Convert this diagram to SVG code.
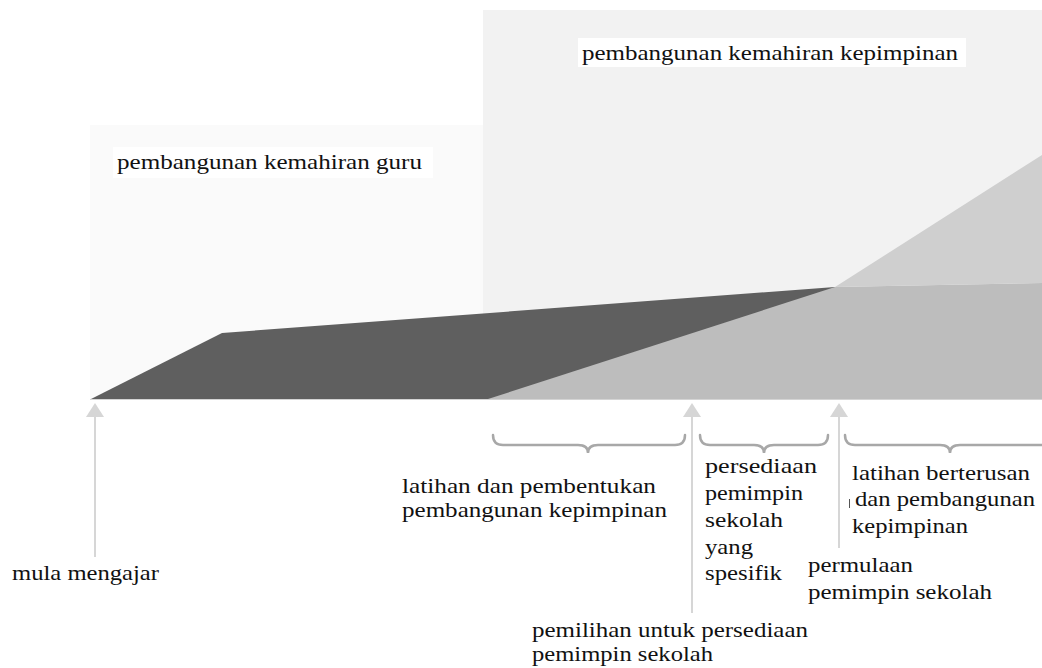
<svg xmlns="http://www.w3.org/2000/svg" width="1042" height="668" viewBox="0 0 1042 668">
<defs>
<style>
.t{font-family:'Liberation Serif','Times New Roman',serif;font-size:21px;fill:#111111;}
.arrow{stroke:#d6d6d6;stroke-width:2;fill:none;}
.head{fill:#d6d6d6;}
.brace{stroke:#a8a8a8;stroke-width:2.5;fill:none;stroke-linecap:round;}
.box{fill:#ffffff;}
</style>
</defs>
<rect width="1042" height="668" fill="#ffffff"/>
<g id="band-guru">
<rect x="90" y="125" width="952" height="274" fill="#fafafa"/>
</g>
<g id="band-kepimpinan">
<rect x="483" y="10" width="559" height="389" fill="#f2f2f2"/>
</g>
<g id="area-guru">
<polygon points="91,399 222,333 835,287 835,399" fill="#5f5f5f"/>
</g>
<g id="area-kepimpinan">
<polygon points="488,399 835,287 1042,283 1042,399" fill="#bdbdbd"/>
<polygon points="835,287 915,236 1042,155 1042,283" fill="#cfcfcf"/>
</g>
<line x1="90" y1="399.5" x2="1042" y2="399.5" stroke="#d4d4d4" stroke-width="1"/>
<g id="label-kepimpinan">
<rect class="box" x="578" y="38" width="388" height="29"/>
<text class="t" x="582" y="60" textLength="376" lengthAdjust="spacingAndGlyphs">pembangunan kemahiran kepimpinan</text>
</g>
<g id="label-guru">
<rect class="box" x="113" y="147" width="320" height="31"/>
<text class="t" x="117" y="169" textLength="305" lengthAdjust="spacingAndGlyphs">pembangunan kemahiran guru</text>
</g>
<g id="connectors">
<line class="arrow" x1="95" y1="415" x2="95" y2="557"/>
<polygon class="head" points="95,403 86,417 104,417"/>
<line class="arrow" x1="692" y1="415" x2="692" y2="613"/>
<polygon class="head" points="692,403 683,417 701,417"/>
<line class="arrow" x1="839" y1="415" x2="839" y2="548"/>
<polygon class="head" points="839,403 830,417 848,417"/>
<path class="brace" d="M493,435 Q493,445 503,445 L578,445 Q588,445 588,453 Q588,445 598,445 L675,445 Q685,445 685,435"/>
<path class="brace" d="M700,435 Q700,445 710,445 L754,445 Q764,445 764,453 Q764,445 774,445 L818,445 Q828,445 828,435"/>
<path class="brace" d="M845,435 Q845,445 855,445 L940,445 Q950,445 950,453 Q950,445 960,445 L1045,445 Q1055,445 1055,435"/>
</g>
<g id="label-mula">
<text class="t" x="12" y="580" textLength="147" lengthAdjust="spacingAndGlyphs">mula mengajar</text>
</g>
<g id="label-latihan">
<text class="t" x="402" y="493" textLength="254" lengthAdjust="spacingAndGlyphs">latihan dan pembentukan</text>
<text class="t" x="402" y="517" textLength="265" lengthAdjust="spacingAndGlyphs">pembangunan kepimpinan</text>
</g>
<g id="label-persediaan">
<text class="t" x="705" y="473" textLength="112" lengthAdjust="spacingAndGlyphs">persediaan</text>
<text class="t" x="705" y="500" textLength="98" lengthAdjust="spacingAndGlyphs">pemimpin</text>
<text class="t" x="705" y="527" textLength="78" lengthAdjust="spacingAndGlyphs">sekolah</text>
<text class="t" x="705" y="554" textLength="48" lengthAdjust="spacingAndGlyphs">yang</text>
<text class="t" x="705" y="580" textLength="77" lengthAdjust="spacingAndGlyphs">spesifik</text>
</g>
<g id="label-pemilihan">
<text class="t" x="532" y="637" textLength="276" lengthAdjust="spacingAndGlyphs">pemilihan untuk persediaan</text>
<text class="t" x="532" y="661" textLength="181" lengthAdjust="spacingAndGlyphs">pemimpin sekolah</text>
</g>
<g id="label-berterusan">
<text class="t" x="852" y="480" textLength="178" lengthAdjust="spacingAndGlyphs">latihan berterusan</text>
<line x1="849.5" y1="499" x2="849.5" y2="508" stroke="#555555" stroke-width="1"/>
<text class="t" x="855" y="506" textLength="180" lengthAdjust="spacingAndGlyphs">dan pembangunan</text>
<text class="t" x="852" y="533" textLength="116" lengthAdjust="spacingAndGlyphs">kepimpinan</text>
</g>
<g id="label-permulaan">
<text class="t" x="808" y="572" textLength="105" lengthAdjust="spacingAndGlyphs">permulaan</text>
<text class="t" x="808" y="599" textLength="184" lengthAdjust="spacingAndGlyphs">pemimpin sekolah</text>
</g>
</svg>
